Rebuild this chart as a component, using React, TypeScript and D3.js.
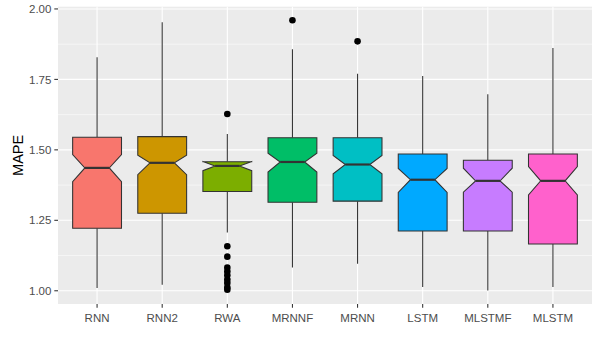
import React, { useRef, useEffect } from 'react';
import * as d3 from 'd3';

// values (MAPE per model)
const models = ['RNN', 'RNN2', 'RWA', 'MRNNF', 'MRNN', 'LSTM', 'MLSTMF', 'MLSTM'];
const lowerHinge = [1.222, 1.275, 1.352, 1.314, 1.318, 1.212, 1.212, 1.166];
const medians = [1.436, 1.454, 1.443, 1.457, 1.448, 1.394, 1.390, 1.390];
const upperHinge = [1.545, 1.547, 1.458, 1.543, 1.543, 1.485, 1.463, 1.485];
const notchLow = [1.387, 1.412, 1.426, 1.421, 1.415, 1.349, 1.350, 1.340];
const notchHigh = [1.483, 1.481, 1.459, 1.488, 1.480, 1.434, 1.435, 1.441];
const whiskerLow = [1.010, 1.021, 1.207, 1.083, 1.096, 1.013, 1.001, 1.013];
const whiskerHigh = [1.829, 1.953, 1.556, 1.857, 1.770, 1.762, 1.697, 1.861];
const outliers = [
  [],
  [],
  [1.627, 1.158, 1.121, 1.082, 1.068, 1.055, 1.040, 1.028, 1.012, 1.004],
  [1.960],
  [1.885],
  [],
  [],
  []
];
const fills = ['#F8766D', '#CD9600', '#7CAE00', '#00BE67', '#00BFC4', '#00A9FF', '#C77CFF', '#FF61CC'];
const yTicks = [1.0, 1.25, 1.5, 1.75, 2.0];
const yMinor = [1.125, 1.375, 1.625, 1.875];

export default function App() {
  const ref = useRef<SVGSVGElement>(null);
  const width = 600;
  const height = 350;

  useEffect(() => {
    const svg = d3.select(ref.current);
    svg.selectAll('*').remove();

    const panel = { left: 58, right: 592, top: 6.7, bottom: 304 };
    const font = '"Liberation Sans", Arial, sans-serif';

    const x = d3.scalePoint<string>()
      .domain(models)
      .range([panel.left, panel.right])
      .padding(0.6);

    const lo = d3.min(models.map((_, i) => Math.min(whiskerLow[i], ...(outliers[i].length ? outliers[i] : [Infinity])))) as number;
    const hi = d3.max(models.map((_, i) => Math.max(whiskerHigh[i], ...(outliers[i].length ? outliers[i] : [-Infinity])))) as number;
    const pad = (hi - lo) * 0.05;
    const y = d3.scaleLinear()
      .domain([lo - pad, hi + pad])
      .range([panel.bottom, panel.top]);

    // panel background
    svg.append('rect')
      .attr('x', panel.left)
      .attr('y', panel.top)
      .attr('width', panel.right - panel.left)
      .attr('height', panel.bottom - panel.top)
      .attr('fill', '#EBEBEB');

    // grid
    svg.selectAll('.minor')
      .data(yMinor)
      .enter()
      .append('line')
        .attr('x1', panel.left).attr('x2', panel.right)
        .attr('y1', d => y(d)).attr('y2', d => y(d))
        .attr('stroke', 'white').attr('stroke-width', 0.55);

    svg.selectAll('.major')
      .data(yTicks)
      .enter()
      .append('line')
        .attr('x1', panel.left).attr('x2', panel.right)
        .attr('y1', d => y(d)).attr('y2', d => y(d))
        .attr('stroke', 'white').attr('stroke-width', 1.1);

    svg.selectAll('.vgrid')
      .data(models)
      .enter()
      .append('line')
        .attr('x1', d => x(d)!).attr('x2', d => x(d)!)
        .attr('y1', panel.top).attr('y2', panel.bottom)
        .attr('stroke', 'white').attr('stroke-width', 1.1);

    const step = x.step();
    const boxW = step * 0.75;
    const indent = boxW / 4;

    models.forEach((m, i) => {
      const cx = x(m)!;
      const x0 = cx - boxW / 2;
      const x1 = cx + boxW / 2;

      // whiskers
      svg.append('line')
        .attr('x1', cx).attr('x2', cx)
        .attr('y1', y(upperHinge[i])).attr('y2', y(whiskerHigh[i]))
        .attr('stroke', '#333333').attr('stroke-width', 1.07);
      svg.append('line')
        .attr('x1', cx).attr('x2', cx)
        .attr('y1', y(lowerHinge[i])).attr('y2', y(whiskerLow[i]))
        .attr('stroke', '#333333').attr('stroke-width', 1.07);

      // notched box
      const pts: [number, number][] = [
        [x0, y(upperHinge[i])],
        [x0, y(notchHigh[i])],
        [x0 + indent, y(medians[i])],
        [x0, y(notchLow[i])],
        [x0, y(lowerHinge[i])],
        [x1, y(lowerHinge[i])],
        [x1, y(notchLow[i])],
        [x1 - indent, y(medians[i])],
        [x1, y(notchHigh[i])],
        [x1, y(upperHinge[i])]
      ];
      svg.append('path')
        .attr('d', d3.line()(pts) + 'Z')
        .attr('fill', fills[i])
        .attr('stroke', '#333333')
        .attr('stroke-width', 1.07)
        .attr('stroke-linejoin', 'miter');

      // median
      svg.append('line')
        .attr('x1', x0 + indent).attr('x2', x1 - indent)
        .attr('y1', y(medians[i])).attr('y2', y(medians[i]))
        .attr('stroke', '#333333').attr('stroke-width', 2.2);

      // outliers
      svg.selectAll(null)
        .data(outliers[i])
        .enter()
        .append('circle')
          .attr('cx', cx)
          .attr('cy', d => y(d))
          .attr('r', 3.3)
          .attr('fill', 'black');
    });

    // axes ticks
    svg.selectAll('.ytick')
      .data(yTicks)
      .enter()
      .append('line')
        .attr('x1', panel.left - 3.7).attr('x2', panel.left)
        .attr('y1', d => y(d)).attr('y2', d => y(d))
        .attr('stroke', '#333333').attr('stroke-width', 1.07);

    svg.selectAll('.ylab')
      .data(yTicks)
      .enter()
      .append('text')
        .attr('x', panel.left - 6.6)
        .attr('y', d => y(d))
        .attr('dy', '0.36em')
        .attr('text-anchor', 'end')
        .attr('font-family', font)
        .attr('font-size', 11.5)
        .attr('fill', '#4D4D4D')
        .text(d => d3.format('.2f')(d));

    svg.selectAll('.xtick')
      .data(models)
      .enter()
      .append('line')
        .attr('x1', d => x(d)!).attr('x2', d => x(d)!)
        .attr('y1', panel.bottom).attr('y2', panel.bottom + 3.7)
        .attr('stroke', '#333333').attr('stroke-width', 1.07);

    svg.selectAll('.xlab')
      .data(models)
      .enter()
      .append('text')
        .attr('x', d => x(d)!)
        .attr('y', 322)
        .attr('text-anchor', 'middle')
        .attr('font-family', font)
        .attr('font-size', 11.5)
        .attr('fill', '#4D4D4D')
        .text(d => d);

    // y title
    svg.append('text')
      .attr('transform', `translate(22.5,${(panel.top + panel.bottom) / 2}) rotate(-90)`)
      .attr('text-anchor', 'middle')
      .attr('font-family', font)
      .attr('font-size', 14.5)
      .attr('fill', 'black')
      .text('MAPE');
  }, []);

  return (
    <svg
      ref={ref}
      width={width}
      height={height}
      style={{ position: 'absolute', left: 0, top: 0, background: 'white', display: 'block' }}
    />
  );
}
